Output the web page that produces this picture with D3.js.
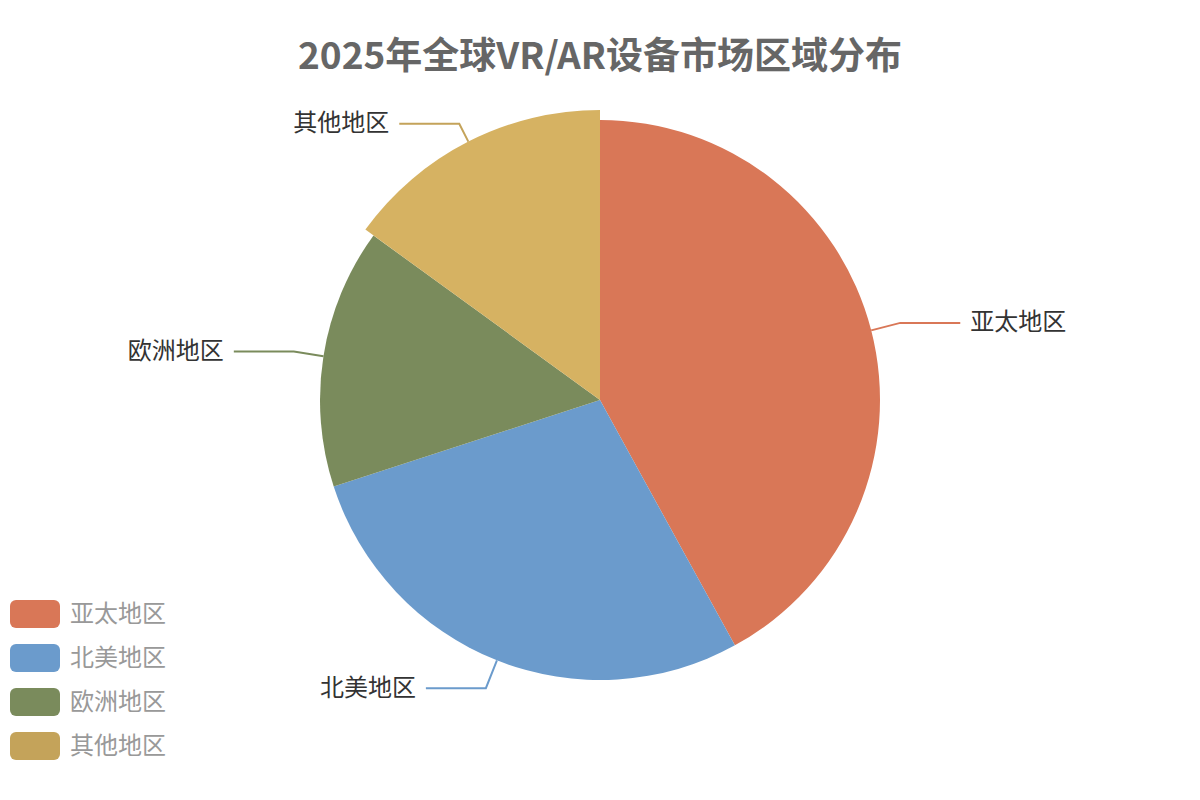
<!DOCTYPE html>
<html>
<head>
<meta charset="utf-8">
<script src="https://cdn.jsdelivr.net/npm/d3@7/dist/d3.min.js"></script>
<style>
  html, body { margin: 0; padding: 0; background: #fff; }
  svg { display: block; font-family: "Noto Sans CJK SC", "Noto Sans", sans-serif; }
</style>
</head>
<body>
<svg id="chart" width="1200" height="800"></svg>
<script>
const regions = ["亚太地区", "北美地区", "欧洲地区", "其他地区"];
const shares = [42, 28, 15, 15];
const colors = ["#d97757", "#6b9bcc", "#7a8b5c", "#c4a35a"];
const highlighted = "其他地区"; // slice shown in hover state
const titleText = "2025年全球VR/AR设备市场区域分布";

const width = 1200, height = 800;
const cx = 600, cy = 400, radius = 280;

const svg = d3.select("#chart");

// title
svg.append("text")
  .attr("x", width / 2)
  .attr("y", 53)
  .attr("text-anchor", "middle")
  .attr("dominant-baseline", "central")
  .attr("font-size", 37)
  .attr("font-weight", "bold")
  .attr("fill", "#666")
  .text(titleText);

const data = regions.map((name, i) => ({ name, value: shares[i], color: colors[i] }));

const pie = d3.pie().sort(null).value((d) => d.value);
const arcs = pie(data);

const g = svg.append("g").attr("transform", `translate(${cx},${cy})`);

const outerR = (d) => (d.data.name === highlighted ? radius + 10 : radius);
const arc = d3.arc().innerRadius(0).outerRadius(outerR);

g.selectAll("path.slice")
  .data(arcs)
  .join("path")
  .attr("class", "slice")
  .attr("d", arc)
  .attr("fill", (d) =>
    d.data.name === highlighted ? d3.color(d.data.color).brighter(0.25) : d.data.color
  );

// label lines + labels
const len1 = 30, len2 = 60, gap = 10;
arcs.forEach((d) => {
  const mid = (d.startAngle + d.endAngle) / 2;
  const sx = Math.sin(mid), sy = -Math.cos(mid);
  const r0 = outerR(d);
  const p0 = [r0 * sx, r0 * sy];
  const p1 = [(radius + len1) * sx, (radius + len1) * sy];
  const dir = sx >= 0 ? 1 : -1;
  const p2 = [p1[0] + dir * len2, p1[1]];

  g.append("polyline")
    .attr("points", [p0, p1, p2].map((p) => p.join(",")).join(" "))
    .attr("fill", "none")
    .attr("stroke", d.data.color)
    .attr("stroke-width", 2);

  g.append("text")
    .attr("x", p2[0] + dir * gap)
    .attr("y", p2[1] - 3)
    .attr("text-anchor", dir > 0 ? "start" : "end")
    .attr("dominant-baseline", "central")
    .attr("font-size", 24)
    .attr("fill", "#333")
    .text(d.data.name);
});

// legend
const legend = svg.append("g").attr("transform", "translate(10,600)");
const item = legend.selectAll("g")
  .data(data)
  .join("g")
  .attr("transform", (d, i) => `translate(0,${i * 44})`);

item.append("rect")
  .attr("width", 50)
  .attr("height", 28)
  .attr("rx", 6)
  .attr("fill", (d) => d.color);

item.append("text")
  .attr("x", 60)
  .attr("y", 11)
  .attr("dominant-baseline", "central")
  .attr("font-size", 24)
  .attr("fill", "#999")
  .text((d) => d.name);
</script>
</body>
</html>
